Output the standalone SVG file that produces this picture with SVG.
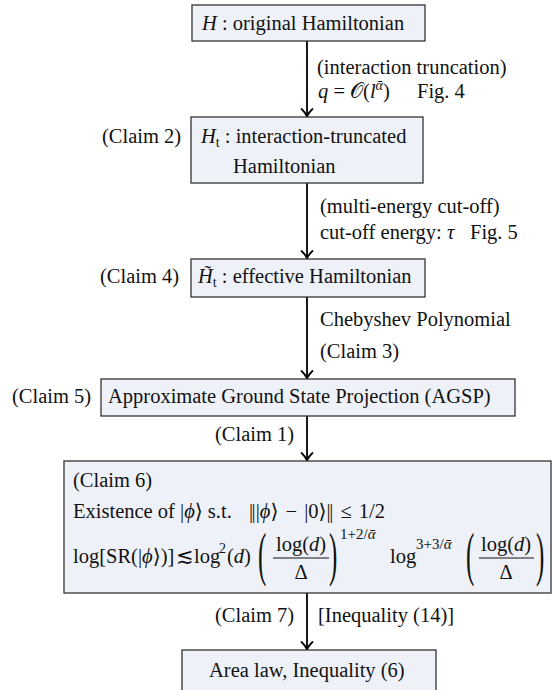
<svg xmlns="http://www.w3.org/2000/svg" width="554" height="690" viewBox="0 0 554 690">
<defs>
<marker id="arr" viewBox="-9 -7 11 14" refX="0" refY="0" markerWidth="11" markerHeight="14" markerUnits="userSpaceOnUse" orient="auto">
<path d="M-7.5,-5.5 C-4.5,-2.2 -1.8,-0.6 0,0 C-1.8,0.6 -4.5,2.2 -7.5,5.5" fill="none" stroke="#000" stroke-width="1.8" stroke-linecap="round"/>
</marker>
</defs>
<style>
text{font-family:"Liberation Serif","DejaVu Serif",serif;font-size:20.5px;fill:#111}
.box{fill:#eef2f8;stroke:#333;stroke-width:1.3}
.conn line{stroke:#000;stroke-width:1.8}
.i{font-style:italic}
.s{font-size:14px}
.sp{font-size:15px}
.m{text-anchor:middle}
.bar{stroke:#111;stroke-width:1}
.bp{font-size:25px}
</style>
<rect width="554" height="690" fill="#fff"/>

<g id="connectors" class="conn">
<line x1="307" y1="41" x2="307" y2="116.5" marker-end="url(#arr)"/>
<line x1="307" y1="183" x2="307" y2="258.5" marker-end="url(#arr)"/>
<line x1="307" y1="297" x2="307" y2="378.5" marker-end="url(#arr)"/>
<line x1="307" y1="416" x2="307" y2="460.5" marker-end="url(#arr)"/>
<line x1="307" y1="593" x2="307" y2="649.5" marker-end="url(#arr)"/>
</g>

<g id="edge-labels">
<text x="317" y="74">(interaction truncation)</text>
<text x="318" y="98"><tspan class="i">q</tspan> = 𝒪(<tspan class="i">l</tspan><tspan class="s i" dy="-8">ᾱ</tspan><tspan dy="8">)</tspan></text>
<text x="417" y="98">Fig. 4</text>
<text x="320" y="213">(multi-energy cut-off)</text>
<text x="320" y="239">cut-off energy:</text>
<text x="447" y="239" class="i">τ</text>
<text x="470" y="239">Fig. 5</text>
<text x="320" y="326">Chebyshev Polynomial</text>
<text x="320" y="358">(Claim 3)</text>
<text x="215" y="441">(Claim 1)</text>
<text x="215" y="622">(Claim 7)</text>
<text x="318" y="622">[Inequality (14)]</text>
</g>

<g id="node-H">
<rect class="box" x="192" y="5" width="233" height="36"/>
<text x="202" y="30"><tspan class="i">H</tspan> : original Hamiltonian</text>
</g>

<g id="node-Ht">
<rect class="box" x="191" y="117" width="232" height="66"/>
<text x="201" y="143"><tspan class="i">H</tspan><tspan class="s" dy="4">t</tspan><tspan dy="-4"> : interaction-truncated</tspan></text>
<text x="233" y="173">Hamiltonian</text>
<text x="102" y="143">(Claim 2)</text>
</g>

<g id="node-Heff">
<rect class="box" x="191" y="259" width="234" height="38"/>
<text x="198" y="283"><tspan class="i">H̃</tspan><tspan class="s" dy="4">t</tspan><tspan dy="-4"> : effective Hamiltonian</tspan></text>
<text x="100" y="283">(Claim 4)</text>
</g>

<g id="node-AGSP">
<rect class="box" x="101" y="379" width="414" height="37"/>
<text x="108" y="403">Approximate Ground State Projection (AGSP)</text>
<text x="12" y="403">(Claim 5)</text>
</g>

<g id="node-claim6">
<rect class="box" x="64" y="461" width="487" height="132"/>
<text x="73" y="487">(Claim 6)</text>
<text x="73" y="518">Existence of |<tspan class="i">ϕ</tspan>⟩ s.t.</text>
<text x="249" y="518" word-spacing="2">|<tspan dx="-1.5">|</tspan>|<tspan class="i">ϕ</tspan>⟩ − |0⟩|<tspan dx="-1.5">|</tspan> ≤ 1/2</text>
<text x="73" y="563">log[SR(|<tspan class="i">ϕ</tspan>⟩)]</text>
<text x="176" y="563">≲</text>
<text x="194" y="563">log</text>
<text x="219" y="553" class="s">2</text>
<text x="227" y="563">(<tspan class="i">d</tspan>)</text>
<text class="bp" transform="translate(258,574) scale(1,2.35)">(</text>
<text class="m" x="301" y="551">log(<tspan class="i">d</tspan>)</text>
<line class="bar" x1="273" y1="558" x2="329" y2="558"/>
<text class="m" x="301" y="579">Δ</text>
<text class="bp" transform="translate(329,574) scale(1,2.35)">)</text>
<text class="sp" x="340" y="539">1+2/<tspan class="i">ᾱ</tspan></text>
<text x="390" y="563">log</text>
<text class="sp" x="416" y="549">3+3/<tspan class="i">ᾱ</tspan></text>
<text class="bp" transform="translate(466,574) scale(1,2.35)">(</text>
<text class="m" x="506" y="551">log(<tspan class="i">d</tspan>)</text>
<line class="bar" x1="479" y1="558" x2="534" y2="558"/>
<text class="m" x="506" y="579">Δ</text>
<text class="bp" transform="translate(536,574) scale(1,2.35)">)</text>
</g>

<g id="node-area">
<rect class="box" x="182" y="650" width="254" height="50"/>
<text x="209" y="677">Area law, Inequality (6)</text>
</g>
</svg>
